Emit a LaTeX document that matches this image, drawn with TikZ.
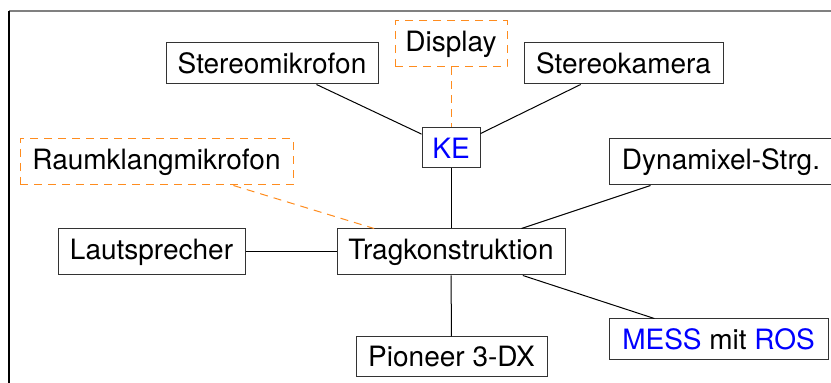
\documentclass[tikz,border=0pt]{standalone}
\usepackage{fontspec}
\setmainfont{TeX Gyre Heros}
\definecolor{dashorange}{RGB}{255,140,30}
\definecolor{framegray}{RGB}{128,128,128}
\tikzset{
  box/.style={draw=black!80, line width=0.5pt, inner sep=0pt, align=center,
    font=\fontsize{14}{17}\selectfont},
  optbox/.style={box, draw=dashorange, dash pattern=on 4pt off 3pt},
  link/.style={draw=black, line width=0.5pt},
  optlink/.style={draw=dashorange, line width=0.5pt, dash pattern=on 4pt off 3pt},
}
\begin{document}
\begin{tikzpicture}[x=0.5pt, y=-0.5pt]
\useasboundingbox (0,0) rectangle (831,383);
\draw[framegray, line width=0.75pt] (9,11) -- (831,11);
\draw[black, line width=0.75pt] (9,11) -- (9,383);

\node[box, minimum width=106pt, minimum height=20.5pt] (smik) at (272,63.5) {Stereomikrofon};
\node[optbox, minimum width=56pt, minimum height=23pt] (disp) at (451,44) {Display};
\node[box, minimum width=99.5pt, minimum height=20.5pt] (skam) at (623.5,63.5) {Stereokamera};
\node[box, minimum width=29pt, minimum height=20pt] (ke) at (451,148) {\textcolor{blue}{KE}};
\node[optbox, minimum width=136.5pt, minimum height=23pt] (raum) at (156.5,162) {Raumklangmikrofon};
\node[box, minimum width=112pt, minimum height=23pt] (dyn) at (721,162) {Dynamixel-Strg.};
\node[box, minimum width=93.5pt, minimum height=23pt] (laut) at (151.5,252) {Lautsprecher};
\node[box, minimum width=114pt, minimum height=23pt] (trag) at (451,252) {Tragkonstruktion};
\node[box, minimum width=95.5pt, minimum height=20pt] (pio) at (451.5,357) {Pioneer 3-DX};
\node[box, minimum width=109.5pt, minimum height=20.5pt] (mess) at (718.5,339.5) {\textcolor{blue}{MESS} mit \textcolor{blue}{ROS}};

\draw[link] (smik) -- (ke);
\draw[link] (skam) -- (ke);
\draw[optlink] (disp) -- (ke);
\draw[link] (ke) -- (trag);
\draw[optlink] (raum) -- (trag);
\draw[link] (dyn) -- (trag);
\draw[link] (laut) -- (trag);
\draw[link] (trag) -- (pio);
\draw[link] (trag) -- (mess);
\end{tikzpicture}
\end{document}
